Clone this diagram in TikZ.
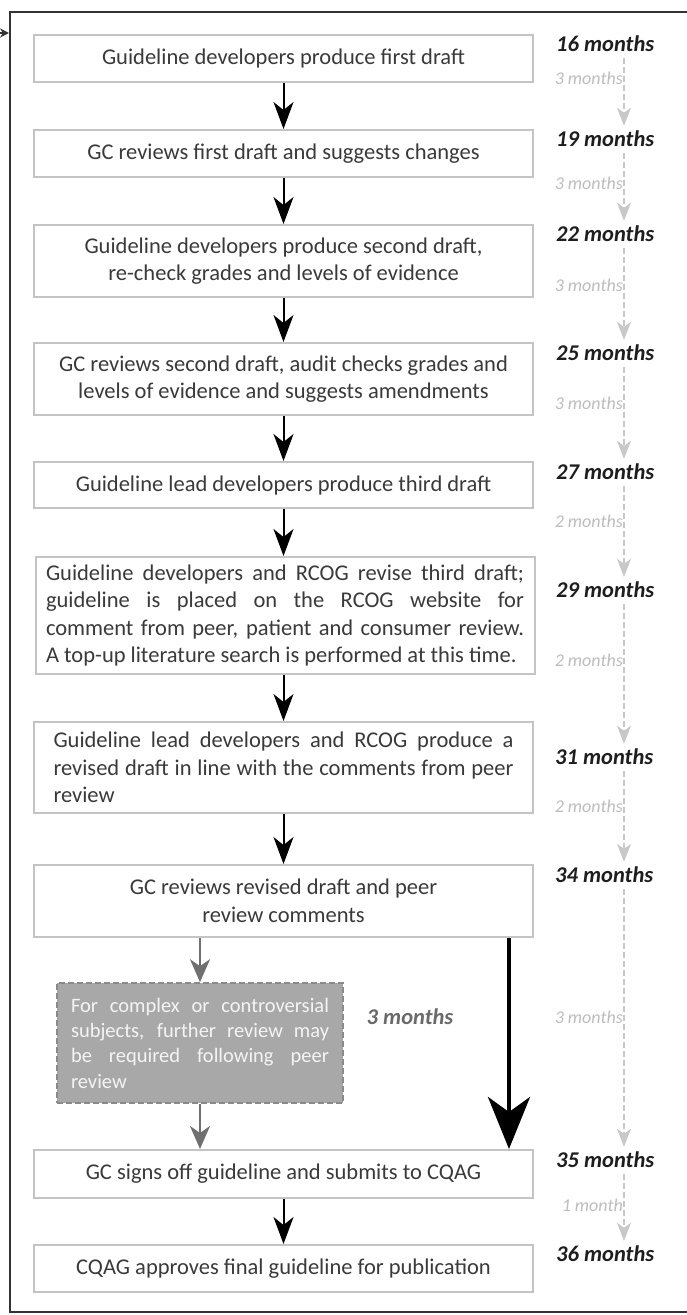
\documentclass[tikz,border=0pt]{standalone}
\usepackage{fontspec}
\setmainfont{Carlito}
\usetikzlibrary{arrows.meta}

\definecolor{boxline}{HTML}{C4C4C4}
\definecolor{boxtext}{HTML}{3A3A3A}
\definecolor{frameline}{HTML}{333333}
\definecolor{timegrey}{HTML}{BDBDBD}
\definecolor{timeline}{HTML}{C8C8C8}
\definecolor{optfill}{HTML}{A8A8A8}
\definecolor{optline}{HTML}{8A8A8A}
\definecolor{optarrow}{HTML}{707070}
\definecolor{opttext}{HTML}{F4F4F4}
\definecolor{optlabel}{HTML}{6A6A6A}
\definecolor{monthtext}{HTML}{1E1E1E}

\tikzset{
  stepbox/.style={draw=boxline, line width=2pt, fill=white, text=boxtext,
    minimum width=499pt, inner sep=0pt,
    font=\fontsize{22.5}{27.5}\selectfont},
  optbox/.style={draw=optline, dash pattern=on 6pt off 3pt, line width=1.6pt, fill=optfill,
    text=opttext, minimum width=286pt, minimum height=120pt, inner sep=0pt,
    text width=258pt, align=justify,
    font=\fontsize{20.5}{25.3}\selectfont},
  monthlabel/.style={font=\fontsize{22.5}{27}\selectfont\bfseries\itshape,
    text=monthtext, inner sep=0pt, text height=16pt, text depth=0pt, anchor=west},
  optmonth/.style={font=\fontsize{22.5}{27}\selectfont\bfseries\itshape,
    text=optlabel, inner sep=0pt},
  spanlabel/.style={font=\fontsize{18}{20}\selectfont\itshape,
    text=timegrey, inner sep=0pt, anchor=east},
  flow/.style={draw=black, line width=2pt,
    -{Stealth[length=27pt, width=20pt, inset=8pt]}},
  optflow/.style={draw=optarrow, line width=2.5pt,
    -{Stealth[length=23pt, width=20pt, inset=7pt]}},
  bigflow/.style={draw=black, line width=4.5pt,
    -{Stealth[length=52pt, width=42pt, inset=15pt]}},
  tline/.style={draw=timeline, line width=1.3pt, dash pattern=on 6pt off 3pt,
    -{Stealth[length=18pt, width=14pt, inset=5pt, fill=timeline]}},
  frame/.style={draw=frameline, line width=2pt}
}

\begin{document}
\begin{tikzpicture}[x=1pt, y=-1pt]
\useasboundingbox (0,0) rectangle (687,1315);

% outer frame and the entry arrow at its top left corner
\draw[frame] (10,12) rectangle (700,1312);
\coordinate (feed) at (-14,33);
\coordinate (entry) at (9,33);
\draw[draw=frameline, line width=1.5pt, -{Stealth[length=9pt, width=9pt]}] (feed) -- (entry);

% process steps
\node[stepbox, minimum height=47pt] (b1) at (283.5,58.5)
  {Guideline developers produce first draft};
\node[stepbox, minimum height=47pt] (b2) at (283.5,153.5)
  {GC reviews first draft and suggests changes};
\node[stepbox, minimum height=72pt, align=center] (b3) at (283.5,261)
  {Guideline developers produce second draft,\\re-check grades and levels of evidence};
\node[stepbox, minimum height=72pt, align=center] (b4) at (283.5,379)
  {GC reviews second draft, audit checks grades and\\levels of evidence and suggests amendments};
\node[stepbox, minimum height=46pt] (b5) at (283.5,485)
  {Guideline lead developers produce third draft};
\node[stepbox, minimum height=117pt, text width=478pt, align=justify] (b6) at (285,615.5)
  {Guideline developers and RCOG revise third draft;\linebreak
   guideline is placed on the RCOG website for\linebreak
   comment from peer, patient and consumer review.\linebreak
   A top-up literature search is performed at this time.};
\node[stepbox, minimum height=91pt, text width=460pt, align=justify] (b7) at (283.5,767.5)
  {Guideline lead developers and RCOG produce a\linebreak
   revised draft in line with the comments from peer\linebreak
   review};
\node[stepbox, minimum height=72pt, align=center] (b8) at (283.5,901)
  {GC reviews revised draft and peer\\review comments};
\node[optbox] (opt) at (200,1043)
  {For complex or controversial\linebreak
   subjects, further review may\linebreak
   be required following peer\linebreak
   review};
\node[optmonth] (optm) at (410,1017) {3 months};
\node[stepbox, minimum height=48pt] (b9) at (283.5,1174)
  {GC signs off guideline and submits to CQAG};
\node[stepbox, minimum height=47pt] (b10) at (283.5,1268.5)
  {CQAG approves final guideline for publication};

% main flow
\draw[flow] (b1) -- (b2);
\draw[flow] (b2) -- (b3);
\draw[flow] (b3) -- (b4);
\draw[flow] (b4) -- (b5);
\draw[flow] (b5.south -| b1) -- (b6.north -| b1);
\draw[flow] (b6.south -| b1) -- (b7.north -| b1);
\draw[flow] (b7) -- (b8);
\draw[flow] (b9) -- (b10);

% optional review branch and the direct route
\draw[optflow] (b8.south -| opt) -- (opt.north);
\draw[optflow] (opt.south) -- (b9.north -| opt);
\coordinate (direct) at (509,0);
\draw[bigflow] (b8.south -| direct) -- (b9.north -| direct);

% elapsed time
\node[monthlabel] (t16) at (556,43)   {16 months};
\node[monthlabel] (t19) at (556,138)  {19 months};
\node[monthlabel] (t22) at (556,233)  {22 months};
\node[monthlabel] (t25) at (556,352)  {25 months};
\node[monthlabel] (t27) at (556,471)  {27 months};
\node[monthlabel] (t29) at (556,589)  {29 months};
\node[monthlabel] (t31) at (555,756)  {31 months};
\node[monthlabel] (t34) at (555,874)  {34 months};
\node[monthlabel] (t35) at (556,1159) {35 months};
\node[monthlabel] (t36) at (556,1253) {36 months};

% durations between milestones
\node[spanlabel] (d1) at (623,78)   {3 months};
\node[spanlabel] (d2) at (623,183)  {3 months};
\node[spanlabel] (d3) at (623,285)  {3 months};
\node[spanlabel] (d4) at (623,403)  {3 months};
\node[spanlabel] (d5) at (623,521)  {2 months};
\node[spanlabel] (d6) at (623,660)  {2 months};
\node[spanlabel] (d7) at (623,806)  {2 months};
\node[spanlabel] (d8) at (623,1017) {3 months};
\node[spanlabel] (d9) at (623,1205) {1 month};

\coordinate (tx) at (624,0);
\draw[tline] ([yshift=-7pt]t16.south -| tx) -- ([yshift=4pt]t19.north -| tx);
\draw[tline] ([yshift=-7pt]t19.south -| tx) -- ([yshift=4pt]t22.north -| tx);
\draw[tline] ([yshift=-7pt]t22.south -| tx) -- ([yshift=4pt]t25.north -| tx);
\draw[tline] ([yshift=-7pt]t25.south -| tx) -- ([yshift=4pt]t27.north -| tx);
\draw[tline] ([yshift=-7pt]t27.south -| tx) -- ([yshift=4pt]t29.north -| tx);
\draw[tline] ([yshift=-7pt]t29.south -| tx) -- ([yshift=4pt]t31.north -| tx);
\draw[tline] ([yshift=-7pt]t31.south -| tx) -- ([yshift=4pt]t34.north -| tx);
\draw[tline] ([yshift=-7pt]t34.south -| tx) -- ([yshift=4pt]t35.north -| tx);
\draw[tline] ([yshift=-7pt]t35.south -| tx) -- ([yshift=4pt]t36.north -| tx);
\end{tikzpicture}
\end{document}
